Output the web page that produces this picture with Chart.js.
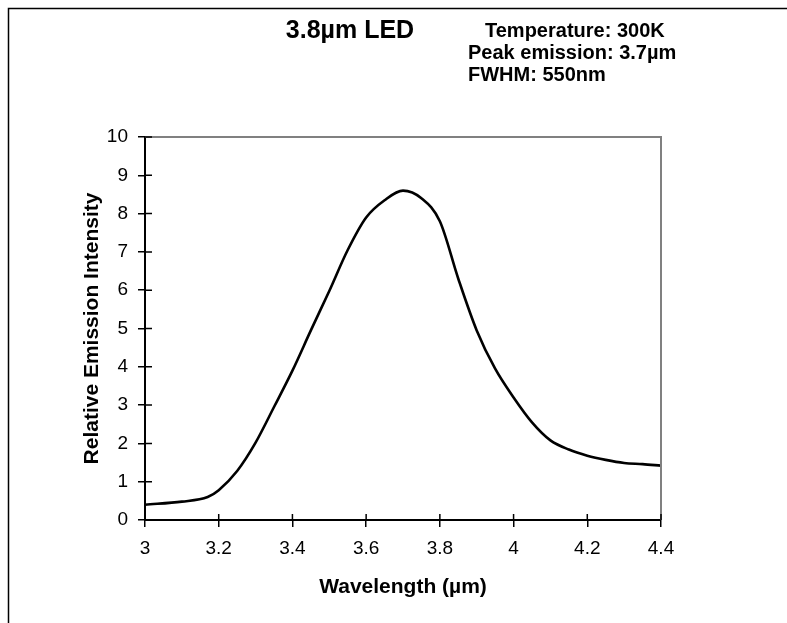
<!DOCTYPE html>
<html>
<head>
<meta charset="utf-8">
<script src="https://cdn.jsdelivr.net/npm/chart.js@4"></script>
<style>
  html, body { margin: 0; padding: 0; background: #fff; }
  #wrap { width: 787px; height: 623px; position: relative; }
</style>
</head>
<body>
<div id="wrap"><canvas id="ledChart" width="787" height="623"></canvas></div>
<script>
// 3.8um LED emission spectrum

const wavelength = [3.0, 3.1, 3.17, 3.2, 3.25, 3.3, 3.35, 3.4, 3.45, 3.5, 3.55, 3.6, 3.65, 3.7,
    3.75, 3.8, 3.85, 3.9, 3.95, 4.0, 4.05, 4.1, 4.15, 4.2, 4.25, 4.3, 4.35, 4.4];
const intensity = [0.40, 0.48, 0.60, 0.78, 1.28, 2.02, 2.95, 3.9, 4.95, 5.98, 7.05, 7.9, 8.35, 8.6,
    8.4, 7.8, 6.3, 4.95, 3.95, 3.2, 2.55, 2.08, 1.84, 1.68, 1.57, 1.49, 1.46, 1.42];

const xTickValues = [3, 3.2, 3.4, 3.6, 3.8, 4, 4.2, 4.4];
const xTickLabels = ['3', '3.2', '3.4', '3.6', '3.8', '4', '4.2', '4.4'];
const yTickValues = [0, 1, 2, 3, 4, 5, 6, 7, 8, 9, 10];

const titleText = '3.8µm LED';
const infoLines = ['Temperature: 300K', 'Peak emission: 3.7µm', 'FWHM: 550nm'];

const FONT = '"Liberation Sans", Arial, sans-serif';

// frame, plot box, inner tick marks and the header text
const decorations = {
    id: 'decorations',
    beforeDraw(chart) {
        const ctx = chart.ctx;
        ctx.save();
        ctx.strokeStyle = '#000';
        ctx.lineWidth = 1.5;
        ctx.strokeRect(8.5, 8.5, 1000, 1000);
        ctx.restore();
    },
    afterDatasetsDraw(chart) {
        const ctx = chart.ctx;
        const a = chart.chartArea;
        const xs = chart.scales.x;
        const ys = chart.scales.y;
        ctx.save();
        // grey top and right edge
        ctx.strokeStyle = '#808080';
        ctx.lineWidth = 2;
        ctx.beginPath();
        ctx.moveTo(a.left, a.top);
        ctx.lineTo(a.right, a.top);
        ctx.lineTo(a.right, a.bottom);
        ctx.stroke();
        // ticks reaching inside the plot
        ctx.strokeStyle = '#000';
        ctx.lineWidth = 1.5;
        ctx.beginPath();
        yTickValues.forEach(v => {
            const y = ys.getPixelForValue(v);
            ctx.moveTo(a.left, y);
            ctx.lineTo(a.left + 7, y);
        });
        xTickValues.forEach(v => {
            const x = xs.getPixelForValue(v);
            ctx.moveTo(x, a.bottom);
            ctx.lineTo(x, a.bottom - 6);
        });
        ctx.stroke();

        ctx.fillStyle = '#000';
        ctx.textBaseline = 'alphabetic';
        ctx.font = 'bold 25px ' + FONT;
        ctx.textAlign = 'center';
        ctx.fillText(titleText, 350, 38);
        ctx.font = 'bold 20px ' + FONT;
        ctx.textAlign = 'left';
        ctx.fillText(infoLines[0], 485, 37);
        ctx.fillText(infoLines[1], 468, 59);
        ctx.fillText(infoLines[2], 468, 81);
        ctx.restore();
    }
};

new Chart(document.getElementById('ledChart').getContext('2d'), {
    type: 'line',
    data: {
        datasets: [{
            data: wavelength.map((w, i) => ({ x: w, y: intensity[i] })),
            borderColor: '#000',
            borderWidth: 2.6,
            pointRadius: 0,
            cubicInterpolationMode: 'monotone',
            fill: false
        }]
    },
    options: {
        responsive: false,
        animation: false,
        layout: { padding: { top: 137, right: 126, left: 0, bottom: 0 } },
        plugins: {
            legend: { display: false },
            tooltip: { enabled: false }
        },
        scales: {
            x: {
                type: 'linear',
                min: 3,
                max: 4.4,
                afterBuildTicks: scale => {
                    scale.ticks = xTickValues.map(v => ({ value: v }));
                },
                afterFit: scale => { scale.height = 103; },
                ticks: {
                    color: '#000',
                    font: { family: FONT, size: 19 },
                    padding: 10,
                    maxRotation: 0,
                    autoSkip: false,
                    callback: (v, i) => xTickLabels[i]
                },
                grid: { drawOnChartArea: false, tickLength: 7, color: '#000', lineWidth: 1.5 },
                border: { color: '#000', width: 2 },
                title: {
                    display: true,
                    text: 'Wavelength (µm)',
                    color: '#000',
                    font: { family: FONT, size: 21, weight: 'bold' },
                    padding: { top: 0, bottom: 23 }
                }
            },
            y: {
                min: 0,
                max: 10,
                afterBuildTicks: scale => {
                    scale.ticks = yTickValues.map(v => ({ value: v }));
                },
                afterFit: scale => { scale.width = 145; },
                ticks: {
                    color: '#000',
                    font: { family: FONT, size: 19 },
                    padding: 10
                },
                grid: { drawOnChartArea: false, tickLength: 7, color: '#000', lineWidth: 1.5 },
                border: { color: '#000', width: 2 },
                title: {
                    display: true,
                    text: 'Relative Emission Intensity',
                    color: '#000',
                    font: { family: FONT, size: 21, weight: 'bold' },
                    padding: { top: 80, bottom: 0 }
                }
            }
        }
    },
    plugins: [decorations]
});
</script>
</body>
</html>
